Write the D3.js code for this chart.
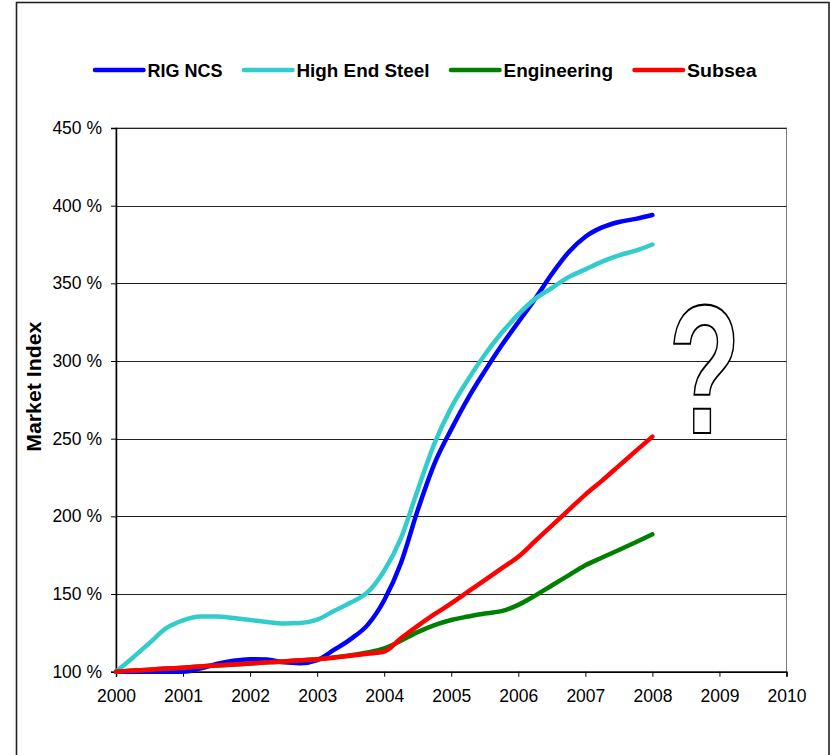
<!DOCTYPE html>
<html>
<head>
<meta charset="utf-8">
<script src="https://cdn.jsdelivr.net/npm/d3@7"></script>
<style>
  html, body { margin: 0; padding: 0; background: #fff; }
  svg { display: block; font-family: "Liberation Sans", Arial, sans-serif; }
</style>
</head>
<body>
<svg id="chart" width="831" height="755"></svg>
<script>
// Quarterly sample dates (decimal years)
const quarters = [
  2000.00, 2000.25, 2000.50, 2000.75,
  2001.00, 2001.25, 2001.50, 2001.75,
  2002.00, 2002.25, 2002.50, 2002.75,
  2003.00, 2003.25, 2003.50, 2003.75,
  2004.00, 2004.25, 2004.50, 2004.75,
  2005.00, 2005.25, 2005.50, 2005.75,
  2006.00, 2006.25, 2006.50, 2006.75,
  2007.00, 2007.25, 2007.50, 2007.75,
  2008.00
];

// Market index in percent of the 2000 level
const rigNcs = [
  100, 100, 100, 100,
  100, 102, 105, 107,
  108, 107.8, 106, 105.5,
  107.5, 114, 121, 130,
  146, 170, 204, 234,
  256, 276, 293.5, 310,
  325, 340, 356, 370,
  380, 386, 389.5, 391.5,
  394
];
const highEndSteel = [
  100, 109, 118.5, 128,
  133, 135.5, 135.5, 134.5,
  133.3, 132, 131, 131.3,
  133.5, 139, 144.5, 151,
  165, 186, 217, 247,
  270, 288, 304, 318,
  330, 340, 347, 354,
  359, 364, 368, 371,
  375
];
const engineering = [
  100, 100.7, 101.3, 102,
  102.6, 103.3, 104, 104.6,
  105.3, 106, 106.6, 107.3,
  108, 109.2, 110.6, 112.4,
  115, 120, 125.5, 130,
  133.3, 135.5, 137.5, 139,
  143, 149, 155.5, 162,
  168.5, 173.5, 178.3, 183.3,
  188.4
];
const subsea = [
  100, 100.7, 101.3, 102,
  102.6, 103.3, 104, 104.6,
  105.3, 106, 106.6, 107.3,
  108, 109, 110.3, 111.6,
  113, 121.5, 129.5, 137,
  144, 151.5, 159, 166.5,
  174, 184, 194, 204,
  214, 223, 232.5, 242,
  251.3
];

const seriesNames = ["RIG NCS", "High End Steel", "Engineering", "Subsea"];
const seriesValues = [rigNcs, highEndSteel, engineering, subsea];
const seriesColors = ["#0000ff", "#33cccc", "#008000", "#ff0000"];

const yearTicks = [2000, 2001, 2002, 2003, 2004, 2005, 2006, 2007, 2008, 2009, 2010];
const percentTicks = [100, 150, 200, 250, 300, 350, 400, 450];

const yAxisTitle = "Market Index";
const outlookMark = "?";

// ---- layout ----
const svg = d3.select("#chart");
const plot = { left: 116, right: 786.5, top: 128, bottom: 671.7 };

const x = d3.scaleLinear().domain([2000, 2010]).range([plot.left, plot.right]);
const y = d3.scaleLinear().domain([100, 450]).range([plot.bottom, plot.top]);

// outer chart frame
svg.append("rect")
  .attr("x", 16.5).attr("y", 2.5)
  .attr("width", 812.5).attr("height", 800)
  .attr("fill", "#fff")
  .attr("stroke", "#222").attr("stroke-width", 1.6);

// plot area border
svg.append("rect")
  .attr("x", plot.left).attr("y", plot.top)
  .attr("width", plot.right - plot.left).attr("height", plot.bottom - plot.top)
  .attr("fill", "none")
  .attr("stroke", "#777").attr("stroke-width", 1);

// horizontal gridlines
svg.append("g")
  .selectAll("line")
  .data(percentTicks.filter(d => d > 100))
  .join("line")
  .attr("x1", plot.left).attr("x2", plot.right)
  .attr("y1", d => Math.round(y(d)) + 0.5).attr("y2", d => Math.round(y(d)) + 0.5)
  .attr("stroke", "#222").attr("stroke-width", 1);

// y axis
const yAxis = svg.append("g")
  .attr("transform", `translate(${plot.left},0)`)
  .call(d3.axisLeft(y).tickValues(percentTicks).tickSize(5).tickPadding(9)
    .tickFormat(d => d + " %"));
yAxis.select(".domain").attr("stroke", "#000").attr("stroke-width", 1.5);
yAxis.selectAll(".tick line").attr("stroke", "#000");
yAxis.selectAll(".tick text")
  .attr("font-family", "'Liberation Sans', Arial, sans-serif")
  .attr("font-size", 17.5).attr("fill", "#000");

// x axis
const xAxis = svg.append("g")
  .attr("transform", `translate(0,${plot.bottom})`)
  .call(d3.axisBottom(x).tickValues(yearTicks).tickSize(5).tickPadding(13)
    .tickFormat(d3.format("d")));
xAxis.select(".domain").attr("stroke", "#000").attr("stroke-width", 1.5);
xAxis.selectAll(".tick line").attr("stroke", "#000");
xAxis.selectAll(".tick text")
  .attr("font-family", "'Liberation Sans', Arial, sans-serif")
  .attr("font-size", 17.5).attr("fill", "#000");

// y axis title
svg.append("text")
  .attr("transform", "translate(41,386.7) rotate(-90)")
  .attr("text-anchor", "middle")
  .attr("font-weight", "bold")
  .attr("font-size", 20)
  .attr("textLength", 130).attr("lengthAdjust", "spacingAndGlyphs")
  .text(yAxisTitle);

// large outlined question mark for the unknown outlook
svg.append("text")
  .attr("transform", "translate(668.5,432.7) scale(1.18,1.83)")
  .attr("font-weight", "bold")
  .attr("font-size", 100)
  .attr("fill", "#fff")
  .attr("stroke", "#000")
  .attr("stroke-width", 1.2)
  .text(outlookMark);

// series lines
const line = d3.line()
  .x((d, i) => x(quarters[i]))
  .y(d => y(d))
  .curve(d3.curveMonotoneX);

svg.append("g")
  .selectAll("path")
  .data(seriesValues)
  .join("path")
  .attr("d", d => line(d))
  .attr("fill", "none")
  .attr("stroke", (d, i) => seriesColors[i])
  .attr("stroke-width", 4.5)
  .attr("stroke-linecap", "round")
  .attr("stroke-linejoin", "round");

// legend
const legendWidths = [75, 133, 109.5, 69.5];
const legend = svg.append("g").attr("transform", "translate(0,70)");
let lx = 95;
seriesNames.forEach((name, i) => {
  const item = legend.append("g").attr("transform", `translate(${lx},0)`);
  item.append("line")
    .attr("x1", 0).attr("x2", 48.5)
    .attr("stroke", seriesColors[i])
    .attr("stroke-width", 4.5)
    .attr("stroke-linecap", "round");
  item.append("text")
    .attr("x", 52.5).attr("y", 7)
    .attr("font-weight", "bold")
    .attr("font-size", 19)
    .attr("textLength", legendWidths[i]).attr("lengthAdjust", "spacingAndGlyphs")
    .text(name);
  lx += 52.5 + legendWidths[i] + 21.5;
});
</script>
</body>
</html>
